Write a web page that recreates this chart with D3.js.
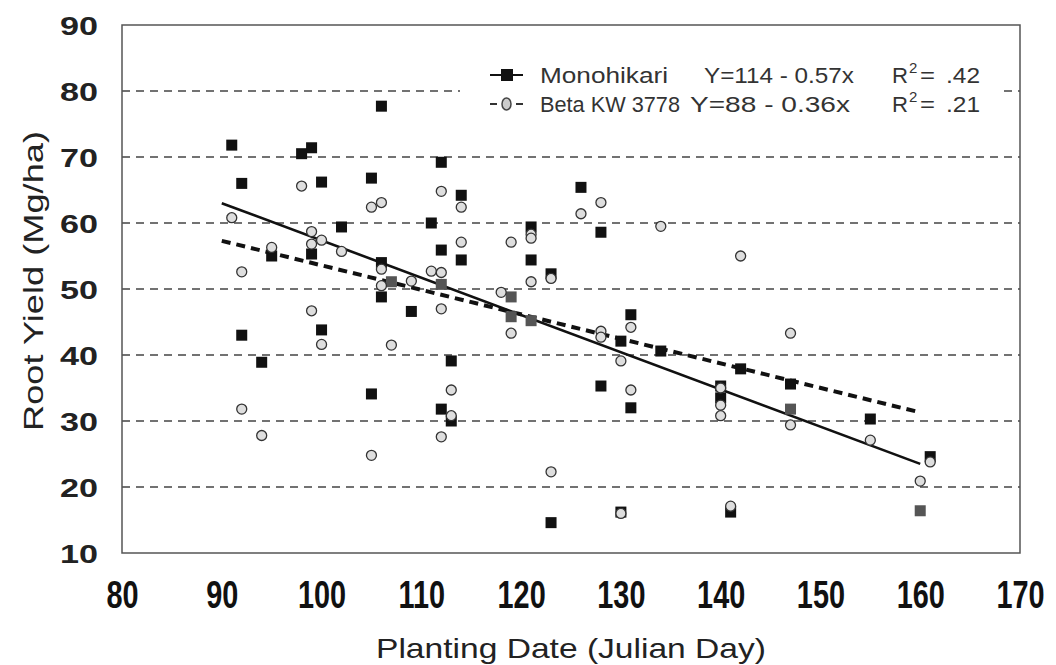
<!DOCTYPE html>
<html><head><meta charset="utf-8">
<script src="https://cdn.jsdelivr.net/npm/d3@7"></script>
<style>body{margin:0;background:#fff}svg{display:block}</style>
</head><body>
<script>
// Monohikari (black squares); gray flag marks squares drawn in gray
const monoDay = [91,92,92,94,95,98,99,99,100,100,102,105,105,106,106,106,107,109,111,112,112,112,112,113,113,114,114,119,119,121,121,121,123,123,126,128,128,130,130,131,131,134,140,140,141,142,147,147,155,161,160];
const monoYield = [71.8,66,43,38.9,55,70.5,71.4,55.3,66.2,43.8,59.4,66.8,34.1,77.7,54,48.8,51.1,46.6,60,69.2,55.9,50.7,31.8,30,39.1,64.2,54.4,48.8,45.8,45.2,59.4,54.4,52.3,14.6,65.4,58.6,35.3,42.1,16.2,46.1,32,40.6,35.3,33.5,16.2,37.9,35.6,31.8,30.3,24.6,16.4];
const monoGray = [0,0,0,0,0,0,0,0,0,0,0,0,0,0,0,0,1,0,0,0,0,1,0,0,0,0,0,1,1,1,0,0,0,0,0,0,0,0,0,0,0,0,0,0,0,0,0,1,0,0,1];
// Beta KW 3778 (open circles)
const betaDay = [91,92,92,94,95,98,99,99,99,100,100,102,105,105,106,106,106,107,109,111,112,112,112,112,113,113,114,114,118,119,119,121,121,121,123,123,126,128,128,128,130,130,131,131,134,140,140,140,141,142,147,147,155,161,160];
const betaYield = [60.8,52.6,31.8,27.8,56.3,65.6,58.7,56.8,46.7,57.4,41.6,55.7,62.4,24.8,63.1,53,50.5,41.5,51.2,52.7,64.8,52.5,47,27.6,34.7,30.8,62.4,57.1,49.5,57.1,43.3,58.3,57.7,51.1,51.6,22.3,61.4,63.1,43.6,42.7,39.1,16,44.2,34.7,59.5,35,32.4,30.8,17.1,55,43.3,29.4,27.1,23.8,20.9];
// Fitted lines (end points)
const monoFitDay = [90,160];
const monoFitYield = [63,23.5];
const betaFitDay = [90,160];
const betaFitYield = [57.3,31.3];
// Axis ticks
const xTicks = [80,90,100,110,120,130,140,150,160,170];
const yTicks = [10,20,30,40,50,60,70,80,90];
const gridTicks = [20,30,40,50,60,70,80];
const legendNames = ["Monohikari","Beta KW 3778"];
const legendEqs = ["Y=114 - 0.57x","Y=88 - 0.36x"];
const legendR2 = [".42",".21"];

const W=1056,H=665;
const L=122,R=1020,T=25,B=553;
const ff="Liberation Sans, Arial, sans-serif";
const svg=d3.select("body").append("svg").attr("width",W).attr("height",H);
const x=d3.scaleLinear().domain([80,170]).range([L,R]);
const y=d3.scaleLinear().domain([10,90]).range([B,T]);

// gridlines
svg.append("g").selectAll("line").data(gridTicks).join("line")
  .attr("x1",L).attr("x2",R).attr("y1",d=>y(d)).attr("y2",d=>y(d))
  .attr("stroke","#444").attr("stroke-width",1.4).attr("stroke-dasharray","8,6");

// frame
svg.append("rect").attr("x",L).attr("y",T).attr("width",R-L).attr("height",B-T)
  .attr("fill","none").attr("stroke","#555").attr("stroke-width",1.5);

// axes (labels through d3 axis)
const xAxis=svg.append("g").attr("transform",`translate(0,${B})`)
  .call(d3.axisBottom(x).tickValues(xTicks).tickSize(0).tickPadding(55));
xAxis.select(".domain").remove();
xAxis.selectAll("text").attr("font-family",ff)
  .attr("font-size",38).attr("font-weight","bold").attr("fill","#111")
  .attr("dy",0).attr("transform","scale(0.76,1)");
const yAxis=svg.append("g").attr("transform",`translate(${L},0)`)
  .call(d3.axisLeft(y).tickValues(yTicks).tickSize(0).tickPadding(24));
yAxis.select(".domain").remove();
yAxis.selectAll("text").attr("font-family",ff)
  .attr("font-size",26).attr("font-weight","bold").attr("fill","#222")
  .attr("dy","0.36em").attr("text-anchor","start").attr("x",-62)
  .attr("textLength",38).attr("lengthAdjust","spacingAndGlyphs");

// fit lines
const line=d3.line().x(d=>x(d[0])).y(d=>y(d[1]));
svg.append("path").datum(d3.zip(monoFitDay,monoFitYield)).attr("d",line)
  .attr("stroke","#111").attr("stroke-width",2.6).attr("fill","none");
svg.append("path").datum(d3.zip(betaFitDay,betaFitYield)).attr("d",line)
  .attr("stroke","#111").attr("stroke-width",4).attr("fill","none").attr("stroke-dasharray","9,6");

// points
const mono=d3.zip(monoDay,monoYield,monoGray);
svg.append("g").selectAll("rect").data(mono).join("rect")
  .attr("x",d=>x(d[0])-5.5).attr("y",d=>y(d[1])-5.5).attr("width",11).attr("height",11)
  .attr("fill",d=>d[2]?"#555":"#111");
const beta=d3.zip(betaDay,betaYield);
svg.append("g").selectAll("circle").data(beta).join("circle")
  .attr("cx",d=>x(d[0])).attr("cy",d=>y(d[1])).attr("r",5)
  .attr("fill","#dedede").attr("stroke","#333").attr("stroke-width",1.3);

// legend
const lg=svg.append("g");
lg.append("rect").attr("x",460).attr("y",56).attr("width",540).attr("height",68).attr("fill","#fff");
const rows=[75,104];
rows.forEach((cy,i)=>{
  if(i===0){
    lg.append("line").attr("x1",490).attr("x2",523).attr("y1",cy).attr("y2",cy).attr("stroke","#111").attr("stroke-width",2);
    lg.append("rect").attr("x",501).attr("y",cy-6).attr("width",12).attr("height",12).attr("fill","#111");
  } else {
    lg.append("line").attr("x1",490).attr("x2",497).attr("y1",cy).attr("y2",cy).attr("stroke","#333").attr("stroke-width",2);
    lg.append("line").attr("x1",516).attr("x2",523).attr("y1",cy).attr("y2",cy).attr("stroke","#333").attr("stroke-width",2);
    lg.append("ellipse").attr("cx",506.5).attr("cy",cy).attr("rx",4.5).attr("ry",6).attr("fill","#ccc").attr("stroke","#444").attr("stroke-width",1.5);
  }
  const by=cy+8;
  const t=(tx,txt,len,fs)=>lg.append("text").attr("x",tx).attr("y",by).attr("font-family",ff).attr("font-size",fs||22)
     .attr("fill","#333").attr("textLength",len).attr("lengthAdjust","spacingAndGlyphs").text(txt);
  t(540,legendNames[i],i===0?128:140);
  t(i===0?704:690,legendEqs[i],i===0?150:160);
  t(892,"R",16);
  lg.append("text").attr("x",909).attr("y",by-10).attr("font-family",ff).attr("font-size",15).attr("fill","#333").text("2");
  t(920,"=",15);
  t(946,legendR2[i],34);
});

// axis titles
svg.append("text").attr("transform","translate(43,281) rotate(-90)").attr("text-anchor","middle")
  .attr("font-family",ff).attr("font-size",28).attr("fill","#222")
  .attr("textLength",300).attr("lengthAdjust","spacingAndGlyphs").text("Root Yield (Mg/ha)");
svg.append("text").attr("x",571).attr("y",658).attr("text-anchor","middle")
  .attr("font-family",ff).attr("font-size",28).attr("fill","#222")
  .attr("textLength",390).attr("lengthAdjust","spacingAndGlyphs").text("Planting Date (Julian Day)");
</script>
</body></html>
